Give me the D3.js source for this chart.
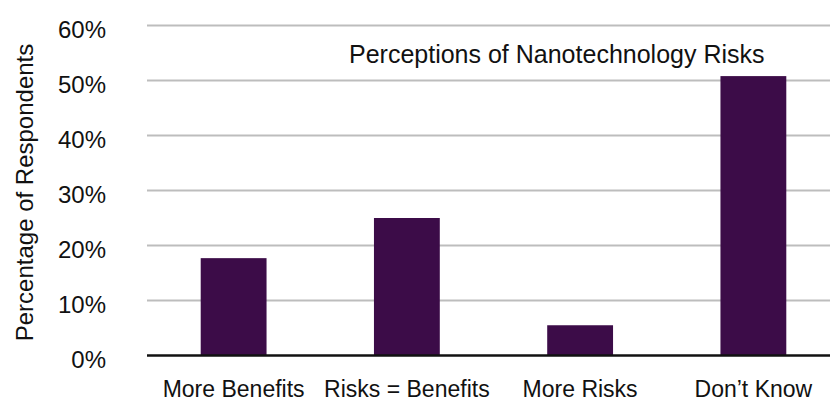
<!DOCTYPE html>
<html><head><meta charset="utf-8">
<script src="https://cdn.jsdelivr.net/npm/d3@7"></script>
<style>body{margin:0;background:#fff}svg text{font-family:"Liberation Sans",Arial,sans-serif;fill:#111}</style>
</head><body><svg id="c" width="830" height="401"></svg>
<script>
const categories = ["More Benefits", "Risks = Benefits", "More Risks", "Don\u2019t Know"];
const values = [0.177, 0.25, 0.055, 0.508];
const yTicks = [0, 0.1, 0.2, 0.3, 0.4, 0.5, 0.6];
const title = "Perceptions of Nanotechnology Risks";
const yLabel = "Percentage of Respondents";

const svg = d3.select("#c");
const x = d3.scaleBand().domain(categories).range([147, 840]).paddingInner(0.62).paddingOuter(0.31);
const y = d3.scaleLinear().domain([0, 0.6]).range([355.5, 25.5]);

svg.append("g").selectAll("line").data(yTicks.filter(d => d > 0)).join("line")
  .attr("x1", 147).attr("x2", 830).attr("y1", d => y(d)).attr("y2", d => y(d))
  .attr("stroke", "#bdbdbd").attr("stroke-width", 2);

svg.append("g").selectAll("rect").data(categories).join("rect")
  .attr("x", d => x(d)).attr("width", x.bandwidth())
  .attr("y", (d, i) => y(values[i])).attr("height", (d, i) => y(0) - y(values[i]))
  .attr("fill", "#3c0c48");

svg.append("line").attr("x1", 147).attr("x2", 830).attr("y1", y(0)).attr("y2", y(0))
  .attr("stroke", "#111").attr("stroke-width", 2.5);

svg.append("g").selectAll("text").data(yTicks).join("text")
  .attr("x", 106).attr("y", d => y(d) + 3.5).attr("dy", "0.36em")
  .attr("text-anchor", "end").attr("font-size", 24)
  .text(d => d3.format(".0%")(d));

svg.append("g").selectAll("text").data(categories).join("text")
  .attr("x", d => x(d) + x.bandwidth() / 2).attr("y", 397)
  .attr("text-anchor", "middle").attr("font-size", 23)
  .text(d => d);

svg.append("text").attr("transform", "translate(33,192.5) rotate(-90)")
  .attr("text-anchor", "middle").attr("font-size", 24).text(yLabel);

svg.append("text").attr("x", 349).attr("y", 63).attr("font-size", 25).text(title);
</script></body></html>
